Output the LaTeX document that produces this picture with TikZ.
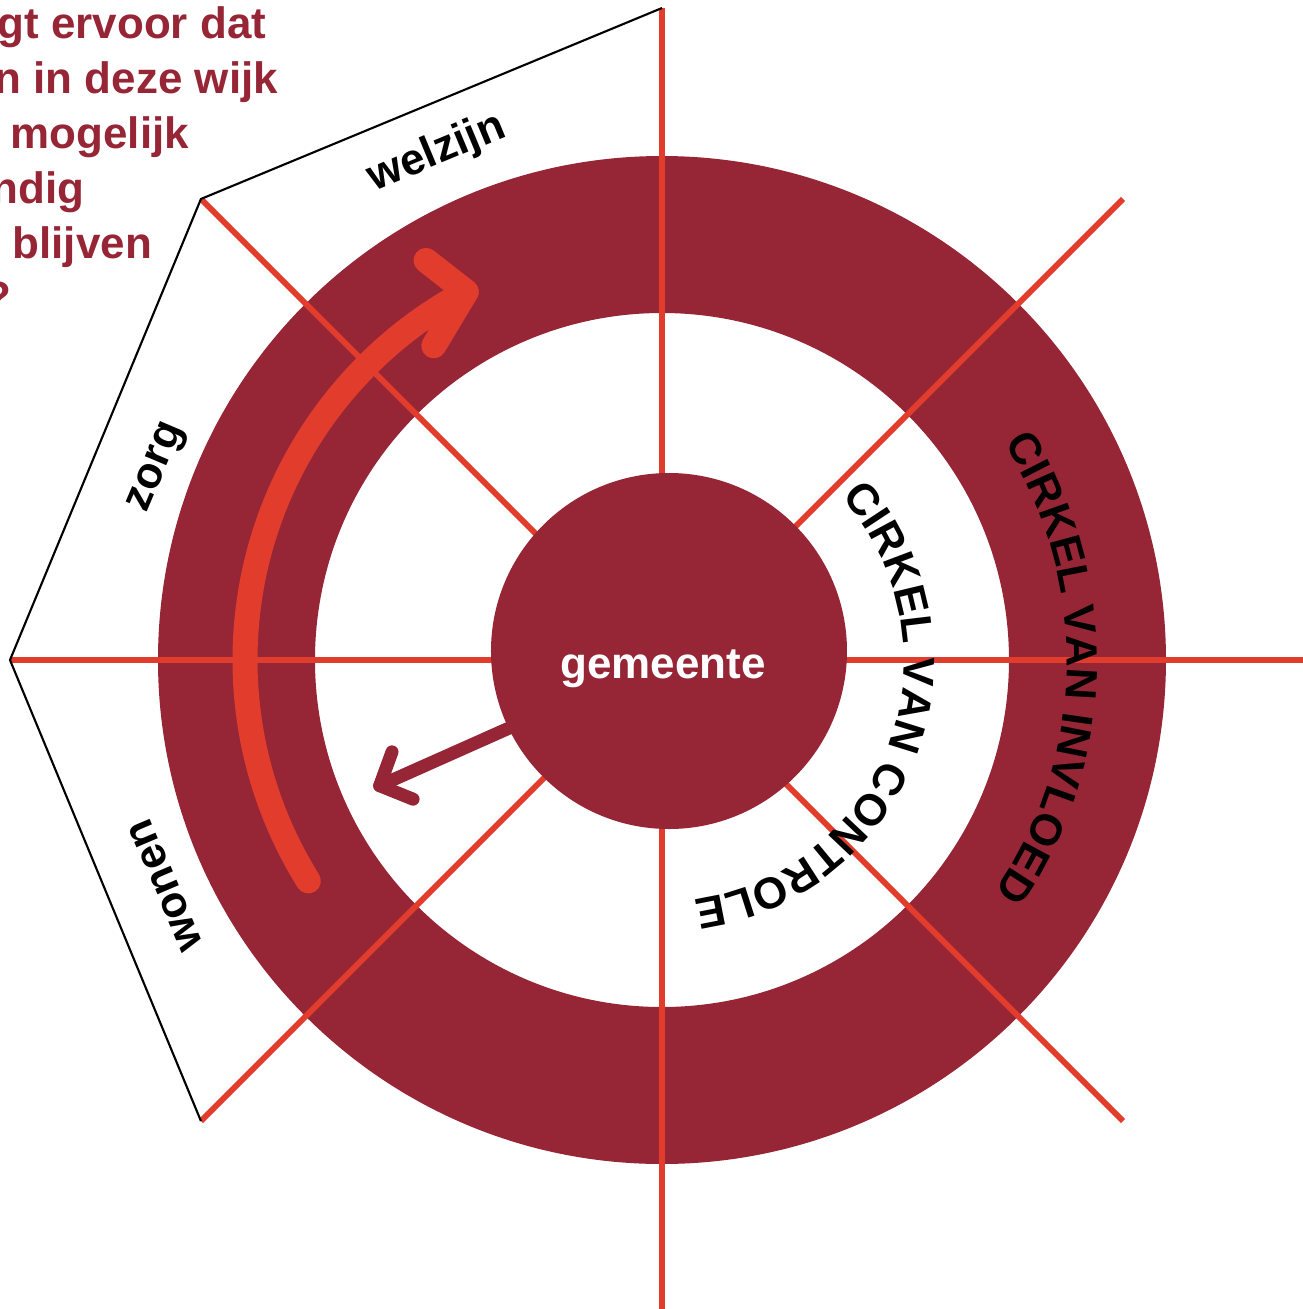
\documentclass[tikz,border=0pt]{standalone}
\usepackage{fontspec}
\setmainfont{Liberation Sans}
\usetikzlibrary{calc, decorations.text}
\definecolor{wijkMaroon}{RGB}{150,38,54}
\definecolor{wijkRed}{RGB}{226,60,45}

\begin{document}
\begin{tikzpicture}[
  spoke/.style={draw=wijkRed, line width=1.7pt},
  wijklabel/.style={font=\fontsize{12.5}{15}\selectfont\bfseries, inner sep=0},
  toptext/.style={wijklabel, text=wijkMaroon, anchor=base west},
  bendarrow/.style={draw=wijkRed, line width=0.25cm, line cap=round, line join=round},
  pusharrow/.style={draw=wijkMaroon, line width=3.7pt, line cap=round, line join=round}
]
  \useasboundingbox (-6.62,-6.49) rectangle (6.41,6.60);

  \coordinate (O) at (0,0);
  \coordinate (M) at (0.07,0.09);
  \coordinate (A) at (90:6.52);
  \coordinate (B) at (135:6.52);
  \coordinate (C) at (180:6.52);
  \coordinate (D) at (225:6.52);

  % ring of influence
  \fill[wijkMaroon, even odd rule] (O) circle (5.04) (O) circle (3.47);

  \foreach \a in {0,45,...,315}
    \draw[spoke] (O) -- (\a:6.52);

  \draw[black, line width=0.6pt] (A) -- (B) -- (C) -- (D);

  % arrow out of the centre
  \draw[pusharrow] (204:1.6) -- (204:3.09) coordinate (ptip);
  \draw[pusharrow] ($ (ptip)+(70:0.36) $) -- (ptip) -- ($ (ptip)+(-22:0.36) $);

  \fill[wijkMaroon] (M) circle (1.78);

  % curved arrow in the ring
  \draw[bendarrow] (212:4.17) arc[start angle=212, end angle=118, radius=4.17] coordinate (btip);
  \draw[bendarrow] ($ (btip)+(142:0.51) $) -- (btip) -- ($ (btip)+(239:0.63) $);

  \node[wijklabel, text=white, anchor=base] (gem) at (0.01,-0.18) {gemeente};

  \node[wijklabel, rotate=22.6] (welzijn) at (-2.25,5.07) {welzijn};
  \node[wijklabel, rotate=67] (zorg) at (-5.04,1.92) {zorg};
  \node[wijklabel, rotate=113] (wonen) at (-4.96,-2.25) {wonen};

  \path[decorate, decoration={text along path, text align=center,
    text={|\fontsize{12.5}{15}\selectfont\bfseries|CIRKEL VAN CONTROLE}}]
    (48:2.42) arc[start angle=48, end angle=-88, radius=2.42];
  \path[decorate, decoration={text along path, text align=center,
    text={|\fontsize{12.5}{15}\selectfont\bfseries|CIRKEL VAN INVLOED}}]
    (36:4.05) arc[start angle=36, end angle=-38.5, radius=4.05];

  % text block top left, cut off by the page edge
  \node[toptext] (t1) at (-6.65,6.22) {gt ervoor dat};
  \node[toptext] (t2) at (-6.68,5.67) {n in deze wijk};
  \node[toptext] (t3) at (-6.52,5.12) {mogelijk};
  \node[toptext] (t4) at (-6.71,4.57) {ndig};
  \node[toptext] (t5) at (-6.50,4.02) {blijven};
  \node[toptext] (t6) at (-6.78,3.48) {?};

\end{tikzpicture}
\end{document}
